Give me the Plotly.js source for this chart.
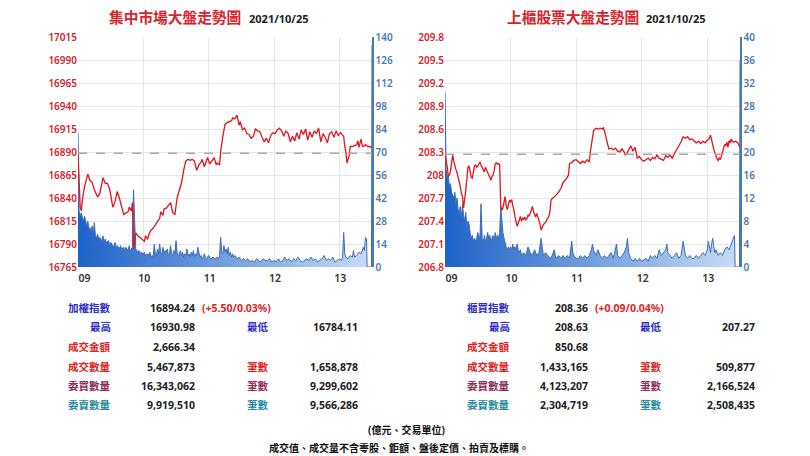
<!DOCTYPE html>
<html>
<head>
<meta charset="utf-8">
<script src="https://cdn.plot.ly/plotly-3.0.1.min.js"></script>
<style>
html,body{margin:0;padding:0;background:#fff;}
#chart{width:810px;height:456px;}
</style>
</head>
<body>
<div id="chart"></div>
<script>
// ---------------- DATA ----------------
// minutes after 09:00
const taiexT = [0,1,2,3,4,6,8,9,11,13,15,17,18,20,22,23,25,27,29,31,32,34,36,38,40,42,44,46,47,49,50,51,52,53,55,57,59,61,62,64,65,67,69,71,73,75,76,78,79,81,83,85,87,89,91,93,95,97,99,101,103,105,107,109,111,113,114,116,118,119,121,123,125,127,128,130,131,133,135,137,139,141,142,144,146,148,149,151,153,155,157,159,161,163,165,167,169,171,173,175,177,179,181,183,185,187,189,191,193,195,197,199,201,203,205,207,209,211,213,215,217,219,221,223,225,227,229,231,233,235,237,239,241,243,244,245,246,247,248,249,250,252,254,256,257,258,259,260,261,262,264,266,268,270];
const taiexV = [16889,16860,16830,16826,16838,16852,16862,16866,16859,16857,16849,16843,16841,16845,16858,16862,16856,16856,16850,16836,16830,16836,16847,16840,16831,16822,16824,16825,16830,16826,16835,16784.5,16793,16802,16799,16797,16795,16793,16799,16795,16800,16805,16807,16811,16814,16818,16825,16821,16828,16829,16832,16835,16824,16822,16840,16848,16856,16870,16880,16882,16881,16882,16880,16870,16876,16879,16882,16874,16882,16884,16877,16881,16884,16876,16878,16876,16890,16907,16920,16922,16923,16924,16927,16926,16930,16919,16923,16914,16916,16910,16909,16905,16907,16915,16913,16912,16906,16901,16905,16900,16908,16911,16910,16914,16916,16913,16907,16913,16910,16901,16907,16902,16911,16904,16914,16909,16915,16903,16912,16906,16913,16910,16916,16901,16910,16906,16900,16910,16912,16906,16913,16908,16911,16909,16907,16896,16890,16878,16883,16886,16896,16896,16897,16898,16902,16895,16900,16904,16897,16896,16898,16896,16896,16894.24];
const taiexVolT = [0,1,2,3,4,5,6,7,8,9,10,11,12,13,14,15,16,17,18,19,20,22,23,24,25,26,28,29,30,31,33,34,35,36,38,39,40,42,43,44,45,46,47,48,49,50,51,52,53,54,55,56,57,58,60,61,62,64,65,66,67,68,69,70,71,72,73,74,75,76,77,78,79,80,81,82,83,84,85,86,87,88,89,90,91,92,93,94,95,96,97,98,99,100,101,102,103,104,105,106,107,108,109,110,111,112,113,114,115,116,117,118,119,120,122,124,126,128,129,130,131,132,133,134,135,136,137,138,139,140,141,142,143,144,146,148,150,152,154,156,158,160,162,164,166,168,170,172,174,176,178,180,182,184,186,188,190,192,194,196,198,200,202,204,206,208,210,212,214,216,218,220,222,224,226,228,230,232,234,236,238,240,242,243,244,245,246,248,250,252,253,254,256,258,260,262,263,264,265,265.5,269.5,270];
const taiexVol = [82,34,31,33,30,28,31,27,25,28,23,24,21,25,20,27,19,18,20,17,18,16,19,15,17,15,16,13,15,14,12,15,12,13,11,13,11,12,10,12,11,10,13,10,11,12,47,20,11,10,9,10,8,9,8,9,7,8,7,9,6,7,6,14,8,7,11,8,14,9,7,12,8,10,9,11,7,8,13,8,7,10,8,16,9,7,8,10,7,9,6,8,7,11,7,8,6,9,7,10,6,8,7,12,8,6,7,5,6,8,6,5,6,7,5,6,5,6,5,7,18,9,8,13,9,11,8,12,7,9,6,8,6,7,5,6,4,5,4,5,3,4,3,5,4,3,5,4,4,5,3,4,3,5,3,4,6,4,5,3,5,4,6,4,3,4,5,4,6,4,5,3,4,5,7,4,5,4,6,3,4,5,4,6,21,8,6,5,7,6,10,6,7,9,8,12,10,18,17,0,0,135];

const otcT = [0,1,2,3,4,5,6,7,8,9,10,11,12,13,14,15,16,17,18,19,20,21,22,23,24,25,26,27,28,29,30,31,32,33,34,35,36,37,38,39,40,41,42,43,44,45,46,47,48,49,50,51,52,53,54,55,56,57,58,59,60,61,62,63,64,65,66,67,68,69,70,71,72,73,74,75,76,77,78,79,80,81,82,83,84,85,86,87,88,89,90,91,92,93,94,95,96,97,98,99,100,102,104,106,108,110,112,113,114,116,118,120,122,124,126,128,130,132,133,134,135,136,138,140,142,144,145,146,147,148,149,150,152,154,156,158,160,162,164,165,166,168,170,171,172,174,175,176,178,180,182,184,186,188,190,192,194,196,198,200,202,204,206,208,210,212,214,216,218,220,222,224,226,228,230,232,234,236,238,240,242,243,244,245,246,247,248,249,250,251,252,253,254,255,256,257,258,259,260,261,262,263,264,266,268,270];
const otcV = [208.28,208.2,208.11,207.98,208.0,208.05,208.15,208.26,208.18,208.1,208.07,208.03,207.98,207.92,207.85,207.76,207.72,207.57,207.66,207.8,207.95,208.1,208.12,208.03,207.97,207.96,208.06,208.12,208.13,208.1,208.12,208.15,208.17,208.13,208.1,208.07,208.04,208.1,208.06,208.02,208.0,207.97,207.93,207.98,208.0,208.06,208.15,208.16,208.14,208.15,208.14,207.6,207.54,207.57,207.63,207.72,207.6,207.55,207.61,207.67,207.65,207.68,207.6,207.55,207.46,207.38,207.33,207.37,207.42,207.46,207.4,207.44,207.42,207.45,207.41,207.43,207.48,207.46,207.5,207.55,207.59,207.52,207.47,207.45,207.5,207.46,207.42,207.36,207.28,207.33,207.35,207.37,207.38,207.41,207.44,207.46,207.52,207.67,207.69,207.7,207.72,207.74,207.78,207.82,207.9,207.93,207.97,208.0,208.15,208.16,208.19,208.2,208.17,208.15,208.18,208.16,208.2,208.17,208.3,208.42,208.5,208.58,208.61,208.6,208.61,208.6,208.62,208.58,208.52,208.45,208.4,208.34,208.35,208.33,208.35,208.31,208.3,208.34,208.3,208.26,208.27,208.32,208.38,208.35,208.31,208.36,208.3,208.22,208.24,208.2,208.18,208.2,208.22,208.19,208.23,208.21,208.26,208.22,208.2,208.19,208.25,208.23,208.26,208.22,208.28,208.33,208.37,208.43,208.5,208.48,208.5,208.46,208.47,208.44,208.42,208.44,208.41,208.44,208.42,208.45,208.48,208.52,208.47,208.4,208.33,208.28,208.24,208.21,208.19,208.22,208.2,208.24,208.3,208.35,208.4,208.38,208.43,208.36,208.45,208.42,208.47,208.44,208.43,208.44,208.42,208.36];
const otcVolT = [0,1,2,3,4,5,6,7,8,9,10,11,12,13,14,15,16,17,18,19,20,21,22,23,24,25,26,27,28,29,30,31,32,33,34,35,36,37,38,39,40,41,42,43,44,45,46,47,48,49,50,51,52,53,54,55,56,57,58,59,60,61,62,63,64,65,66,67,68,69,70,72,74,76,78,80,82,84,86,88,89,90,92,94,96,98,100,101,102,104,106,108,110,112,114,116,117,118,120,122,124,126,128,130,132,134,135,136,138,140,142,144,146,148,150,152,154,156,157,158,160,162,164,166,167,168,170,172,174,176,178,180,182,184,186,188,190,192,194,196,198,200,202,203,204,206,208,210,212,214,216,218,219,220,222,224,226,228,230,232,234,236,238,240,241,242,243,244,245,246,247,248,250,252,254,256,258,260,262,264,265,265.5,269.5,270];
const otcVol = [30.5,17,15.5,16,14,14.5,13,12.5,12,13,11,12,10,9.5,10.5,8.5,11,9,8,9.5,7,8,7.5,6,5,5.5,4.5,5,4.5,5,6,5.5,5,11,5,4,5.5,4.5,5,6,5,5.5,4.5,5,5.5,4.5,6,5,5.5,5,6,10.5,8,6,5,4,3.5,3,3.5,3,3.5,3,4,3,3.5,3,4,3,2.5,3,2,2.5,2,3.5,2.5,2,3,2,2.5,5,3,2,2.5,2,1.5,2,3,2,1.5,2,1.5,2,1.5,2,1.5,4.5,2.5,2,1.5,1.5,2,1.5,2,1.5,2,3,4,3,2,3,2,1.5,2,1.5,2,2.5,1.5,3,4,2,1.5,2,2.5,3.5,5,2.5,1.5,1,1.5,1,1.5,1,1.2,1.5,1,2,1.5,2,1.5,3,2,2.5,3,4,2.5,2,1.5,2,2.5,1.5,2,4.5,3,2,1.5,2,1.5,1.5,2,1.5,2,2.5,2,3,4.5,3,2.5,4,5,3.5,2.5,3,2,2.5,2,3,3.5,3,4,5,5.5,0,0,36];

const taiexPrev = 16888.74;
const otcPrev = 208.27;

const hourTicks = [0,60,120,180,240];
const hourLabels = ['\u00a0\u00a0\u00a0\u00a009','10','11','12','13'];
const taiexTicks = [16765,16790,16815,16840,16865,16890,16915,16940,16965,16990,17015];
const taiexVolTicks = [0,14,28,42,56,70,84,98,112,126,140];
const otcTicks = [206.8,207.1,207.4,207.7,208,208.3,208.6,208.9,209.2,209.5,209.8];
const otcTickText = ['206.8','207.1','207.4','207.7','208','208.3','208.6','208.9','209.2','209.5','209.8'];
const otcVolTicks = [0,4,8,12,16,20,24,28,32,36,40];

const titles = ['集中市場大盤走勢圖','上櫃股票大盤走勢圖'];
const dateText = '2021/10/25';

const leftLabels = ['加權指數','最高','成交金額','成交數量','委買數量','委賣數量'];
const leftValues = ['16894.24','16930.98','2,666.34','5,467,873','16,343,062','9,919,510'];
const leftLabels2 = ['','最低','','筆數','筆數','筆數'];
const leftValues2 = ['','16784.11','','1,658,878','9,299,602','9,566,286'];
const leftChange = '(+5.50/0.03%)';

const rightLabels = ['櫃買指數','最高','成交金額','成交數量','委買數量','委賣數量'];
const rightValues = ['208.36','208.63','850.68','1,433,165','4,123,207','2,304,719'];
const rightLabels2 = ['','最低','','筆數','筆數','筆數'];
const rightValues2 = ['','207.27','','509,877','2,166,524','2,508,435'];
const rightChange = '(+0.09/0.04%)';

const footer1 = '(億元、交易單位)';
const footer2 = '成交值、成交量不含零股、鉅額、盤後定價、拍賣及標購。';

// ---------------- STYLE ----------------
const W = 810, H = 456;
const FONT = 'Noto Sans, Noto Sans CJK TC, sans-serif';
const RED = '#d8232a';
const VOLBLUE = '#4a7ab3';
const GRID = '#e6e6e6';
const rowColors = ['#2f2fc4','#2f2fc4','#e02424','#e02424','#8e2b5a','#2a8aa0'];
const rowY = [308,327,347,367,386,405];
const px = x => x / W;
const py = y => 1 - y / H;

const yDom = [py(267), py(37)];

function volTrace(x, y, xa, ya) {
  return {
    x: x, y: y, xaxis: xa, yaxis: ya, type: 'scatter', mode: 'lines',
    line: {color: '#3b6db5', width: 1},
    fill: 'tozeroy',
    fillgradient: {type: 'horizontal', colorscale: [[0, '#1e62c8'], [1, '#c9dcf5']]},
    hoverinfo: 'skip', showlegend: false
  };
}
function idxTrace(x, y, xa, ya) {
  return {
    x: x, y: y, xaxis: xa, yaxis: ya, type: 'scatter', mode: 'lines',
    line: {color: '#e4141b', width: 1.3},
    hoverinfo: 'skip', showlegend: false
  };
}

const data = [
  volTrace(taiexVolT, taiexVol, 'x', 'y'),
  idxTrace(taiexT, taiexV, 'x', 'y2'),
  volTrace(otcVolT, otcVol, 'x2', 'y3'),
  idxTrace(otcT, otcV, 'x2', 'y4')
];

const xCommon = {
  range: [0, 270], tickmode: 'array', tickvals: hourTicks, ticktext: hourLabels,
  showgrid: true, gridcolor: GRID, gridwidth: 1, zeroline: false, showline: false,
  ticks: '', ticklabelstandoff: 3, ticklabelshift: 1,
  tickfont: {family: FONT, size: 10.5, color: '#333', weight: 600}, fixedrange: true
};
const volAxisCommon = {
  domain: yDom, side: 'right', tickmode: 'array', showgrid: true, gridcolor: GRID,
  zeroline: false, showline: true, linecolor: VOLBLUE, linewidth: 1.5, ticks: '',
  tickfont: {family: FONT, size: 10, color: VOLBLUE, weight: 600}, fixedrange: true
};
const idxAxisCommon = {
  side: 'left', tickmode: 'array', showgrid: false, zeroline: false, showline: false, ticks: '',
  tickfont: {family: FONT, size: 10, color: RED, weight: 600}, fixedrange: true
};

const shapes = [
  {type: 'line', xref: 'x', yref: 'y2', x0: 0, x1: 270, y0: taiexPrev, y1: taiexPrev,
   line: {color: '#a8a8a8', width: 1.5, dash: 'dash'}},
  {type: 'line', xref: 'x2', yref: 'y4', x0: 0, x1: 270, y0: otcPrev, y1: otcPrev,
   line: {color: '#a8a8a8', width: 1.5, dash: 'dash'}}
];

const ann = [];
function txt(text, x, y, anchor, color, size, weight) {
  ann.push({text: text, x: px(x), y: py(y), xref: 'paper', yref: 'paper', xanchor: anchor, yanchor: 'middle',
    showarrow: false, font: {family: FONT, size: size, color: color, weight: weight || 700}});
}
// titles
txt(titles[0], 243, 17, 'right', RED, 14.7, 700);
txt(dateText, 247, 18, 'left', '#222', 11, 700);
txt(titles[1], 641, 17, 'right', RED, 14.7, 700);
txt(dateText, 644, 18, 'left', '#222', 11, 700);

function table(labels, values, labels2, values2, change, labX, valX, chgX, lab2X, val2X) {
  for (let i = 0; i < labels.length; i++) {
    txt(labels[i], labX, rowY[i], 'right', rowColors[i], 10.5, 700);
    txt(values[i], valX, rowY[i], 'right', '#222', 10.5, 700);
    if (labels2[i]) txt(labels2[i], lab2X, rowY[i], 'left', rowColors[i], 10.5, 700);
    if (values2[i]) txt(values2[i], val2X, rowY[i], 'right', '#222', 10.5, 700);
  }
  txt(change, chgX, rowY[0], 'left', '#e02424', 10.5, 700);
}
table(leftLabels, leftValues, leftLabels2, leftValues2, leftChange, 113, 197, 200, 245, 360);
table(rightLabels, rightValues, rightLabels2, rightValues2, rightChange, 512, 590, 593, 638, 757);

txt(footer1, 406, 430, 'center', '#111', 10, 700);
txt(footer2, 399, 448, 'center', '#111', 10, 700);

const layout = {
  width: W, height: H, margin: {l: 0, r: 0, t: 0, b: 0},
  paper_bgcolor: '#fff', plot_bgcolor: '#fff', showlegend: false,
  xaxis: Object.assign({}, xCommon, {domain: [px(78), px(372)], anchor: 'y'}),
  xaxis2: Object.assign({}, xCommon, {domain: [px(445), px(740)], anchor: 'y3'}),
  yaxis: Object.assign({}, volAxisCommon, {anchor: 'x', range: [0, 140], tickvals: taiexVolTicks}),
  yaxis2: Object.assign({}, idxAxisCommon, {overlaying: 'y', anchor: 'x', range: [16765, 17015], tickvals: taiexTicks, tickformat: 'd'}),
  yaxis3: Object.assign({}, volAxisCommon, {anchor: 'x2', range: [0, 40], tickvals: otcVolTicks}),
  yaxis4: Object.assign({}, idxAxisCommon, {overlaying: 'y3', anchor: 'x2', range: [206.8, 209.8], tickvals: otcTicks, ticktext: otcTickText}),
  shapes: shapes,
  annotations: ann
};

Plotly.newPlot('chart', data, layout, {displayModeBar: false, staticPlot: true});
</script>
</body>
</html>
